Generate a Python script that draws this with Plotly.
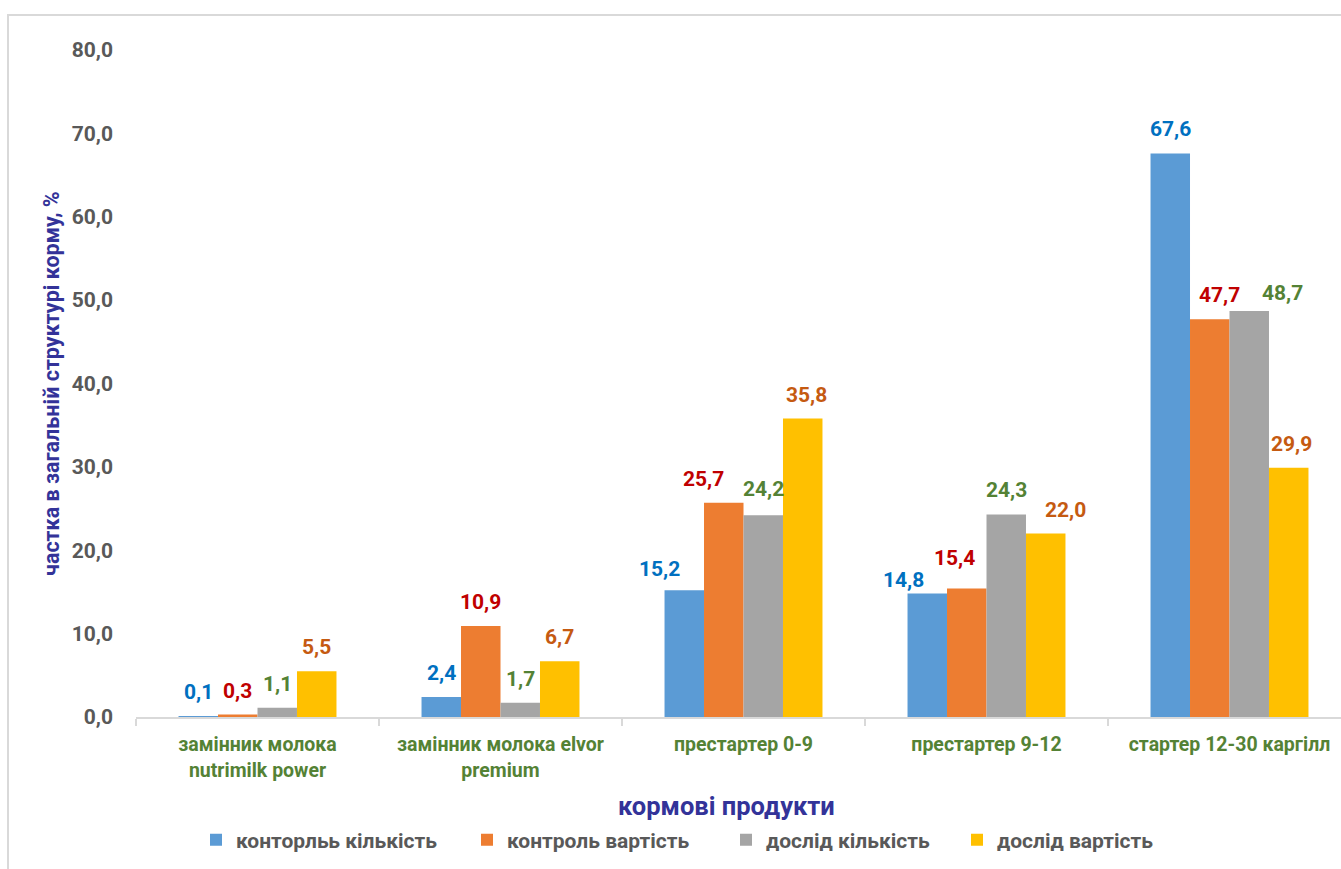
import plotly.graph_objects as go

categories = ["замінник молока<br>nutrimilk power", "замінник молока elvor<br>premium",
              "престартер 0-9", "престартер 9-12", "стартер 12-30 каргілл"]
series_names = ["конторльь кількість", "контроль вартість", "дослід кількість", "дослід вартість"]
control_qty = [0.1, 2.4, 15.2, 14.8, 67.6]
control_cost = [0.3, 10.9, 25.7, 15.4, 47.7]
trial_qty = [1.1, 1.7, 24.2, 24.3, 48.7]
trial_cost = [5.5, 6.7, 35.8, 22.0, 29.9]
y_ticks = [0, 10, 20, 30, 40, 50, 60, 70, 80]

series_values = [control_qty, control_cost, trial_qty, trial_cost]
bar_colors = ["#5B9BD5", "#ED7D31", "#A5A5A5", "#FFC000"]
label_colors = ["#0070C0", "#C00000", "#548235", "#C55A11"]

# manual nudges of individual data labels (px), as placed in the original chart
label_nudge = {(0, 2): (-25, -3), (1, 2): (-20, 0), (2, 2): (0, 2), (3, 2): (4, 0),
               (0, 3): (-24, -10), (1, 3): (-12, 7), (3, 3): (20, 0),
               (1, 4): (10, 0), (2, 4): (33, -6), (3, 4): (3, 0)}

W, H = 1341, 869
ML, MR, MT, MB = 136, 0, 50, 152
plot_w = W - ML - MR
plot_h = H - MT - MB
y0px = H - MB
cat_px = 243.0
span = plot_w / cat_px
bargap = 0.35
bar_px = cat_px * (1 - bargap) / 4

FONT = "Roboto"


def px_x(px):
    return (px - ML) / plot_w


def px_y(py):
    return (y0px - py) / plot_h


legend_ids = ["legend", "legend2", "legend3", "legend4"]
legend_square_x = [216, 487, 746, 977]

fig = go.Figure()
for k, (name, vals) in enumerate(zip(series_names, series_values)):
    fig.add_trace(go.Bar(
        x=categories, y=vals, name=name, legend=legend_ids[k],
        marker=dict(color=bar_colors[k], line=dict(width=0)),
    ))

annotations = []
for k, vals in enumerate(series_values):
    for i, (c, v) in enumerate(zip(categories, vals)):
        dx, dy = label_nudge.get((k, i), (0, 0))
        annotations.append(dict(
            x=c, y=v, xref="x", yref="y",
            text=f"{v:.1f}".replace(".", ","),
            showarrow=False, xanchor="center", yanchor="bottom",
            xshift=(k - 1.5) * bar_px + dx, yshift=10 + dy,
            font=dict(family=FONT, size=21, color=label_colors[k], weight="bold"),
        ))

annotations.append(dict(
    text="частка в загальній структурі корму, %", textangle=-90,
    xref="paper", yref="paper", x=px_x(51), y=px_y(384),
    xanchor="center", yanchor="middle", showarrow=False,
    font=dict(family=FONT, size=21.5, color="#333399", weight="bold"),
))
annotations.append(dict(
    text="кормові продукти",
    xref="paper", yref="paper", x=px_x(726), y=px_y(806),
    xanchor="center", yanchor="middle", showarrow=False,
    font=dict(family=FONT, size=25.5, color="#333399", weight="bold"),
))

layout_legends = {}
for k, lid in enumerate(legend_ids):
    layout_legends[lid] = dict(
        orientation="h", x=px_x(legend_square_x[k] - 20), y=px_y(840),
        xanchor="left", yanchor="middle",
        font=dict(family=FONT, size=21, color="#595959", weight="bold"),
        itemclick=False, bgcolor="rgba(0,0,0,0)", borderwidth=0,
    )

fig.update_layout(
    width=W, height=H,
    margin=dict(l=ML, r=MR, t=MT, b=MB, pad=0),
    paper_bgcolor="white", plot_bgcolor="white",
    barmode="group", bargap=bargap, bargroupgap=0,
    separators=",.",
    showlegend=True,
    annotations=annotations,
    xaxis=dict(
        range=[-0.5, -0.5 + span], type="category",
        showline=True, linecolor="#D9D9D9", linewidth=1.5,
        ticks="outside", tickson="boundaries", ticklen=7, tickcolor="#D9D9D9", tickwidth=1.5,
        tickfont=dict(family=FONT, size=19.5, color="#548235", weight="bold"),
        ticklabelstandoff=9,
        showgrid=False, zeroline=False,
    ),
    yaxis=dict(
        range=[0, 80], tickvals=y_ticks, tickformat=".1f",
        showline=False, showgrid=False, zeroline=False, ticks="",
        tickfont=dict(family=FONT, size=21, color="#595959", weight="bold"),
        ticklabelstandoff=22,
    ),
    shapes=[dict(
        type="rect", xref="paper", yref="paper",
        x0=px_x(8), x1=1.02, y0=px_y(880), y1=px_y(15),
        line=dict(color="#D9D9D9", width=2), fillcolor="rgba(0,0,0,0)", layer="below",
    )],
    **layout_legends,
)

fig.write_html("out.html")
